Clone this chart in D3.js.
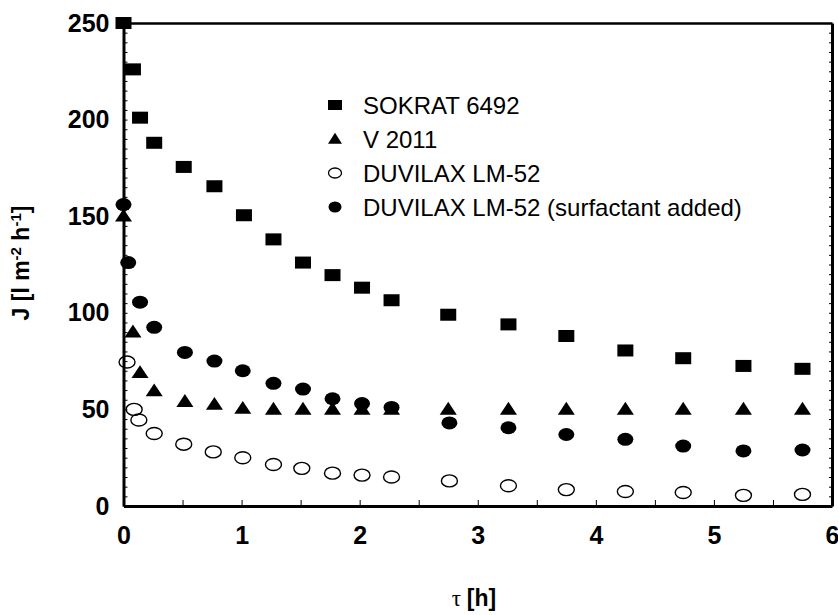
<!DOCTYPE html>
<html>
<head>
<meta charset="utf-8">
<script src="https://cdn.jsdelivr.net/npm/d3@7"></script>
<style>
  body { margin: 0; background: #fff; }
  text { font-family: "Liberation Sans", Arial, Helvetica, sans-serif; fill: #000; }
</style>
</head>
<body>
<div id="chart"></div>
<script>
// values: time [h] and flux J [l m-2 h-1]
var sokratT = [0, 0.08, 0.14, 0.26, 0.51, 0.77, 1.02, 1.27, 1.52, 1.77, 2.02, 2.27, 2.75, 3.26, 3.75, 4.25, 4.74, 5.25, 5.75];
var sokratJ = [250, 226, 201, 188, 175.5, 165.5, 150.5, 138, 126, 119.5, 113, 106.5, 99, 94, 88, 80.5, 76.5, 72.5, 71];

var v2011T = [0, 0.08, 0.14, 0.26, 0.52, 0.77, 1.01, 1.27, 1.52, 1.77, 2.02, 2.27, 2.75, 3.26, 3.75, 4.25, 4.74, 5.25, 5.75];
var v2011J = [150, 90, 69, 59.5, 54, 52.5, 50.5, 50, 50, 50, 50, 50, 50, 50, 50, 50, 50, 50, 50];

var duvT = [0.03, 0.09, 0.13, 0.26, 0.51, 0.76, 1.01, 1.27, 1.51, 1.77, 2.02, 2.27, 2.76, 3.26, 3.75, 4.25, 4.74, 5.25, 5.75];
var duvJ = [74.5, 50, 44.5, 37.5, 32, 28, 25, 21.5, 19.5, 17, 16, 15, 13, 10.5, 8.5, 7.5, 7, 5.5, 6];

var duvSurfT = [0, 0.04, 0.14, 0.26, 0.52, 0.77, 1.01, 1.27, 1.52, 1.77, 2.02, 2.27, 2.76, 3.26, 3.75, 4.25, 4.74, 5.25, 5.75];
var duvSurfJ = [156, 126, 105.5, 92.5, 79.5, 75, 70, 63.5, 60.5, 55.5, 53, 51, 43, 40.5, 37, 34.5, 31, 28.5, 29];

var seriesNames = ["SOKRAT 6492", "V 2011", "DUVILAX LM-52", "DUVILAX LM-52 (surfactant added)"];
var yTickLabels = [0, 50, 100, 150, 200, 250];
var xTickLabels = [0, 1, 2, 3, 4, 5, 6];

var width = 838, height = 615;
var svg = d3.select("#chart").append("svg")
    .attr("width", width)
    .attr("height", height);

var x = d3.scaleLinear().domain([0, 6]).range([123.5, 832]);
var y = d3.scaleLinear().domain([0, 250]).range([506, 23]);

/* axes, ticks point inward */
var xAxis = d3.axisBottom(x)
    .tickValues(d3.range(0, 6.01, 0.5))
    .tickSize(-6).tickSizeOuter(0).tickPadding(20)
    .tickFormat(function(d) { return xTickLabels.indexOf(d) >= 0 ? d : ""; });
var gx = svg.append("g").attr("transform", "translate(0," + y(0) + ")").call(xAxis);
gx.select(".domain").attr("stroke-width", 3);
gx.selectAll("text").style("font-size", "25px").style("font-weight", "bold").attr("dy", "0.71em");

var yAxis = d3.axisLeft(y)
    .tickValues(d3.range(0, 251, 5))
    .tickSize(-4).tickSizeOuter(0).tickPadding(14)
    .tickFormat(function(d) { return yTickLabels.indexOf(d) >= 0 ? d : ""; });
var gy = svg.append("g").attr("transform", "translate(" + x(0) + ",0)").call(yAxis);
gy.select(".domain").attr("stroke-width", 3);
gy.selectAll("text").style("font-size", "25px").style("font-weight", "bold");

var yRight = d3.axisLeft(y).tickValues(d3.range(0, 251, 5)).tickSize(3).tickSizeOuter(0).tickFormat("");
var gr = svg.append("g").attr("transform", "translate(" + x(6) + ",0)").call(yRight);
gr.select(".domain").attr("stroke-width", 3);

var gt = svg.append("g").attr("transform", "translate(0," + y(250) + ")")
    .call(d3.axisTop(x).tickValues([]).tickSizeOuter(0));
gt.select(".domain").attr("stroke-width", 2.5);

svg.selectAll(".tick line").attr("stroke-width", 1);

/* axis titles */
svg.append("text")
    .attr("transform", "translate(29,263) rotate(-90)")
    .attr("text-anchor", "middle")
    .style("font-size", "23px").style("font-weight", "bold")
    .call(function(t) {
      t.append("tspan").text("J [l m");
      t.append("tspan").attr("dy", -8).style("font-size", "15px").text("-2");
      t.append("tspan").attr("dy", 8).text(" h");
      t.append("tspan").attr("dy", -8).style("font-size", "15px").text("-1");
      t.append("tspan").attr("dy", 8).text("]");
    });

svg.append("text")
    .attr("x", 474).attr("y", 606)
    .attr("text-anchor", "middle")
    .style("font-size", "23px")
    .call(function(t) {
      t.append("tspan").style("font-family", "'Liberation Serif', 'DejaVu Serif', serif").text("\u03c4 ");
      t.append("tspan").style("font-weight", "bold").text("[h]");
    });

/* markers */
function zip(ts, js) { return ts.map(function(t, i) { return {t: t, j: js[i]}; }); }

var plot = svg.append("g");

plot.selectAll(".sq").data(zip(sokratT, sokratJ)).enter().append("rect")
    .attr("class", "sq")
    .attr("x", function(d) { return x(d.t) - 8; })
    .attr("y", function(d) { return y(d.j) - 6; })
    .attr("width", 16).attr("height", 12)
    .attr("fill", "#000");

var tri = d3.symbol().type(d3.symbolTriangle).size(95);
plot.selectAll(".tri").data(zip(v2011T, v2011J)).enter().append("path")
    .attr("class", "tri")
    .attr("d", tri)
    .attr("transform", function(d) { return "translate(" + x(d.t) + "," + (y(d.j) + 1) + ") scale(1.15,1)"; })
    .attr("fill", "#000");

plot.selectAll(".oc").data(zip(duvT, duvJ)).enter().append("ellipse")
    .attr("class", "oc")
    .attr("cx", function(d) { return x(d.t); })
    .attr("cy", function(d) { return y(d.j); })
    .attr("rx", 8).attr("ry", 6)
    .attr("fill", "none").attr("stroke", "#000").attr("stroke-width", 1.4);

plot.selectAll(".fc").data(zip(duvSurfT, duvSurfJ)).enter().append("ellipse")
    .attr("class", "fc")
    .attr("cx", function(d) { return x(d.t); })
    .attr("cy", function(d) { return y(d.j); })
    .attr("rx", 8).attr("ry", 6.5)
    .attr("fill", "#000");

/* legend */
var legend = svg.append("g").attr("transform", "translate(335,105)");
var rowH = 34;
seriesNames.forEach(function(name, i) {
  var g = legend.append("g").attr("transform", "translate(0," + i * rowH + ")");
  if (i === 0) g.append("rect").attr("x", -7).attr("y", -5).attr("width", 14).attr("height", 10).attr("fill", "#000");
  if (i === 1) g.append("path").attr("d", d3.symbol().type(d3.symbolTriangle).size(70)).attr("transform", "translate(0,1) scale(1.1,1)").attr("fill", "#000");
  if (i === 2) g.append("ellipse").attr("rx", 6.5).attr("ry", 5).attr("fill", "none").attr("stroke", "#000").attr("stroke-width", 1.3);
  if (i === 3) g.append("ellipse").attr("rx", 6.5).attr("ry", 5.5).attr("fill", "#000");
  g.append("text").attr("x", 28).attr("y", 0).attr("dy", "0.36em")
    .style("font-size", "24px").text(name);
});
</script>
</body>
</html>
